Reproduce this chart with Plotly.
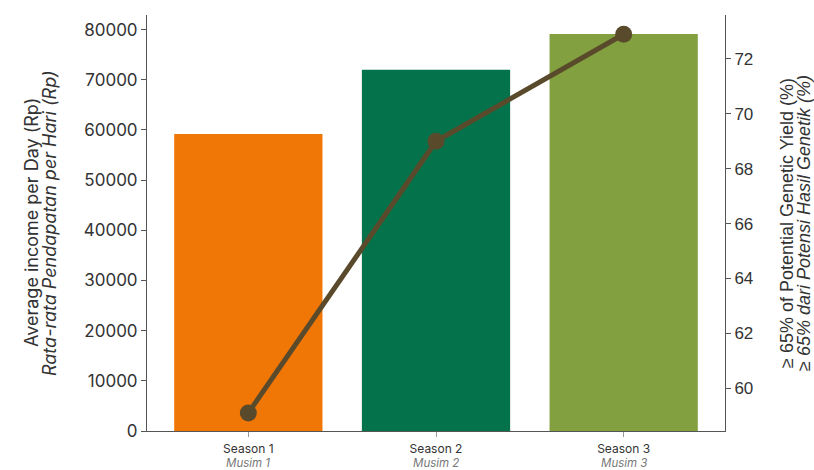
import plotly.graph_objects as go

categories = ["Season 1", "Season 2", "Season 3"]
categories_id = ["Musim 1", "Musim 2", "Musim 3"]
income = [59200, 72000, 79100]
yield_pct = [59.1, 69.0, 72.9]
bar_colors = ["#F07605", "#04734C", "#82A03F"]
left_title = ["Average income per Day (Rp)", "Rata-rata Pendapatan per Hari (Rp)"]
right_title = ["≥ 65% of Potential Genetic Yield (%)", "≥ 65% dari Potensi Hasil Genetik (%)"]

x = [0, 1, 2]

fig = go.Figure()
fig.add_trace(go.Bar(x=x, y=income, marker=dict(color=bar_colors, line=dict(width=0)),
                     width=0.79, yaxis="y", showlegend=False))
fig.add_trace(go.Scatter(x=x, y=yield_pct, mode="lines+markers", yaxis="y2",
                         line=dict(color="#5A4A2C", width=5),
                         marker=dict(color="#5A4A2C", size=17), showlegend=False))

axcol = "#555555"
txt = "#333333"
fig.update_layout(
    width=814, height=470,
    margin=dict(l=147, r=89, t=15, b=39, autoexpand=False),
    paper_bgcolor="white", plot_bgcolor="white",
    font=dict(family="Inter", color=txt),
    xaxis=dict(range=[-0.54, 2.54], tickmode="array", tickvals=x, ticktext=categories,
               showline=True, linecolor=axcol, linewidth=1, ticks="outside", ticklen=5,
               tickcolor="#999999", showgrid=False, zeroline=False, automargin=False,
               ticklabelstandoff=2,
               tickfont=dict(size=12, family="Inter", color=txt)),
    yaxis=dict(range=[0, 82900], tickvals=list(range(0, 80001, 10000)), tickformat="d",
               showline=True, linecolor=axcol, linewidth=1, ticks="outside", ticklen=5,
               tickcolor=axcol, showgrid=False, zeroline=False, automargin=False,
               tickfont=dict(size=17, family="Inter", color=txt)),
    yaxis2=dict(range=[58.44, 73.6], overlaying="y", side="right",
                tickvals=[60, 62, 64, 66, 68, 70, 72],
                showline=True, linecolor=axcol, linewidth=1, ticks="outside", ticklen=5,
                tickcolor=axcol, showgrid=False, zeroline=False, automargin=False,
                tickfont=dict(size=17, family="Liberation Sans", color=txt)),
    bargap=0.2,
)

ann = []
for xi, m in zip(x, categories_id):
    ann.append(dict(x=xi, xref="x", y=0, yref="paper", yshift=-32, text=f"<i>{m}</i>",
                    showarrow=False, xanchor="center", yanchor="middle",
                    font=dict(size=11.5, family="Inter", color="#777777")))
for i, (t, shift) in enumerate(zip(left_title, [-116, -98])):
    ann.append(dict(x=0, xref="paper", xshift=shift, y=0.5, yref="paper",
                    text=t if i == 0 else f"<i>{t}</i>", textangle=-90,
                    showarrow=False, xanchor="center", yanchor="middle",
                    font=dict(size=18, family="Inter", color=txt)))
for i, (t, shift) in enumerate(zip(right_title, [62, 79])):
    ann.append(dict(x=1, xref="paper", xshift=shift, y=0.5, yref="paper",
                    text=t if i == 0 else f"<i>{t}</i>", textangle=-90,
                    showarrow=False, xanchor="center", yanchor="middle",
                    font=dict(size=18, family="Liberation Sans", color=txt)))
fig.update_layout(annotations=ann)

fig.write_html("out.html", config={"displayModeBar": False},
               post_script="document.body.style.margin='0';document.body.style.overflow='hidden';")
